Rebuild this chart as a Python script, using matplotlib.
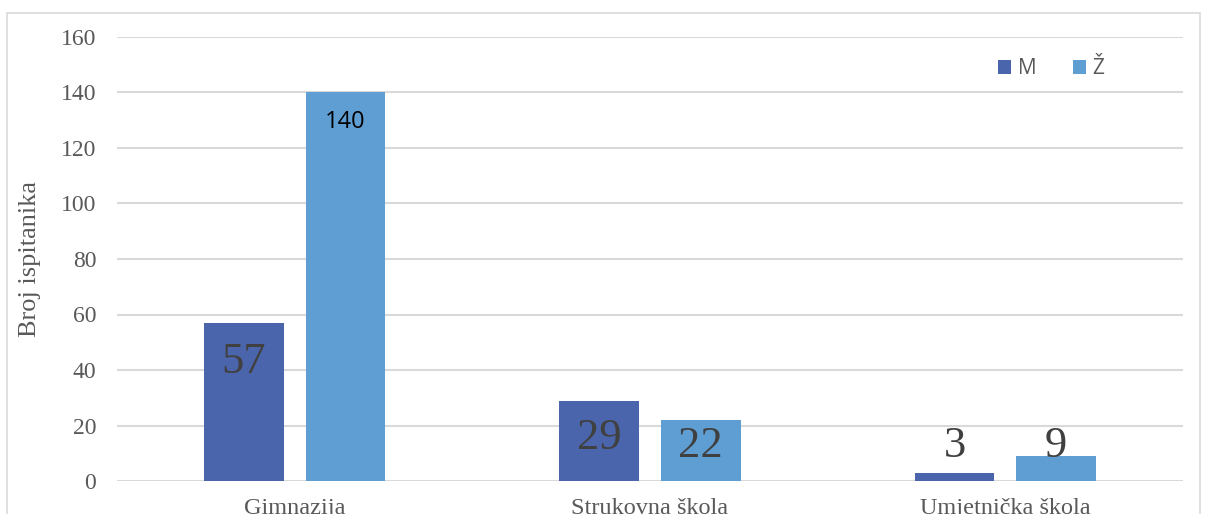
import matplotlib.pyplot as plt
import numpy as np
from matplotlib.patches import Rectangle

categories = ["Gimnazija", "Strukovna škola", "Umjetnička škola"]
muski = [57, 29, 3]
zenski = [140, 22, 9]
series_names = ["M", "Ž"]

COLOR_M = "#4a65ab"
COLOR_Z = "#5f9ed3"
GREY = "#595959"
SERIF = "Liberation Serif"


def main():
    fig = plt.figure(figsize=(12.06, 5.14), dpi=100)
    ax = fig.add_axes([117 / 1206, 33 / 514, 1066 / 1206, 444 / 514])

    # outer chart border, cut off at the bottom like the screenshot
    fig.patches.append(Rectangle((7 / 1206, -0.05), 1193 / 1206, 1.05 - 13 / 514,
                                 transform=fig.transFigure, fill=False,
                                 edgecolor="#d9d9d9", linewidth=1.2))

    x = np.arange(len(categories))
    width = 0.225
    offset = 0.143

    bars_m = ax.bar(x - offset, muski, width, color=COLOR_M, label=series_names[0], zorder=3)
    bars_z = ax.bar(x + offset, zenski, width, color=COLOR_Z, label=series_names[1], zorder=3)

    # data labels, placed by hand in the original
    label_y_m = [43, 15.5, 12.6]
    label_y_z = [129.4, 12.6, 12.6]
    for bar, value, ly in zip(bars_m, muski, label_y_m):
        ax.text(bar.get_x() + bar.get_width() / 2, ly, str(value), ha="center", va="center",
                fontsize=32, family=SERIF, color="#404040", zorder=4)
    for i, (bar, value, ly) in enumerate(zip(bars_z, zenski, label_y_z)):
        if i == 0:
            ax.text(bar.get_x() + bar.get_width() / 2, ly, str(value), ha="center", va="center",
                    fontsize=17, family="Open Sans", color="black", zorder=4)
        else:
            ax.text(bar.get_x() + bar.get_width() / 2, ly, str(value), ha="center", va="center",
                    fontsize=32, family=SERIF, color="#404040", zorder=4)

    ax.set_xlim(-0.5, 2.5)
    ax.set_ylim(0, 160)
    ax.set_yticks(range(0, 161, 20))
    ax.set_xticks(x)
    ax.set_xticklabels(categories, family=SERIF, fontsize=17.5, color=GREY)
    ax.tick_params(axis="y", labelsize=17, labelcolor=GREY, length=0, pad=15)
    ax.tick_params(axis="x", length=0, pad=12)
    for label in ax.get_yticklabels():
        label.set_family(SERIF)

    ax.grid(axis="y", color="#d9d9d9", linewidth=1.5, zorder=0)
    for side in ["top", "right", "left", "bottom"]:
        ax.spines[side].set_visible(False)

    ax.set_ylabel("Broj ispitanika", family=SERIF, fontsize=19, color=GREY, labelpad=14)

    ax.legend(loc="upper left", bbox_to_anchor=(862 / 1066, 0.995), ncol=2, frameon=False,
              prop={"family": "Open Sans", "size": 15}, labelcolor=GREY,
              handlelength=0.65, handleheight=0.65, handletextpad=0.3, columnspacing=1.75)

    fig.savefig("out.png", dpi=100)


if __name__ == "__main__":
    main()
